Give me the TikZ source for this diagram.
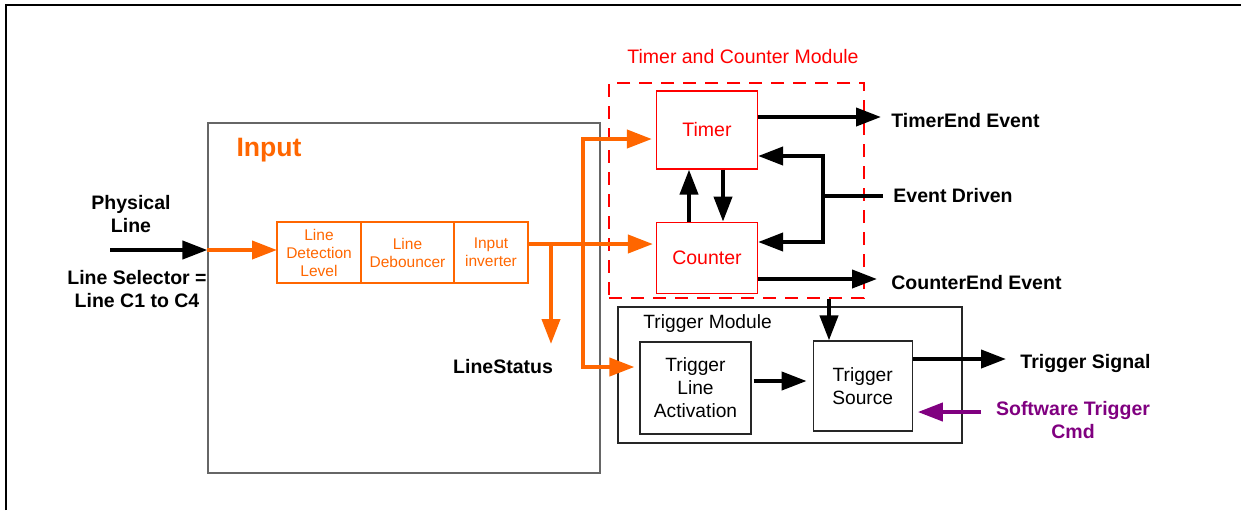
\documentclass[tikz,border=0pt]{standalone}
\usepackage{fontspec}
\setmainfont{Liberation Sans}
\usepackage{xcolor}
\definecolor{TrigOrange}{HTML}{FF6600}
\definecolor{TrigRed}{HTML}{FF0000}
\definecolor{TrigPurple}{HTML}{800080}
\definecolor{TrigGrey}{HTML}{666666}
\usetikzlibrary{arrows.meta,positioning,calc}

\begin{document}
\begin{tikzpicture}[
  x=0.5pt,y=-0.5pt,
  lbl/.style={font=\fontsize{9.75}{11.5}\selectfont\bfseries,align=center,inner sep=2pt},
  blk/.style={line width=2pt,draw=black},
  blkarr/.style={blk,-{Triangle[length=12.5pt,width=9pt]}},
  org/.style={line width=2pt,draw=TrigOrange},
  orgarr/.style={org,-{Triangle[length=12.5pt,width=9pt]}},
  purarr/.style={line width=2pt,draw=TrigPurple,-{Triangle[length=12.5pt,width=9pt]}},
  chain/.style={draw=TrigOrange,line width=0.6pt,text=TrigOrange,minimum height=30.5pt,align=center,inner sep=0pt,outer sep=0pt,font=\fontsize{7.75}{9}\selectfont},
  tcbox/.style={draw=TrigRed,line width=0.6pt,text=TrigRed,minimum width=50.5pt,font=\fontsize{9.75}{11.5}\selectfont},
  trbox/.style={draw=black!85,line width=0.6pt,align=center,font=\fontsize{9.6}{11.5}\selectfont}
]
  \useasboundingbox (0,0) rectangle (1241,510);
  \draw[line width=1pt] (6,510) -- (6,5) -- (1241,5);

  % input block
  \node[draw=TrigGrey,line width=0.6pt,minimum width=196pt,minimum height=175pt] (input) at (404,298) {};
  \node[font=\fontsize{13.3}{15}\selectfont\bfseries,text=TrigOrange] (inputtitle) at (269,150) {Input};
  \node[chain,minimum width=42pt] (det) at (319,252.5) {Line\\Detection\\Level};
  \node[chain,minimum width=46.5pt,right=0pt of det] (deb) {Line\\Debouncer};
  \node[chain,minimum width=37pt,right=0pt of deb] (inv) {Input\\inverter};
  \node[lbl] (phys) at (131,214) {Physical\\Line};
  \node[lbl] (linesel) at (137,289.5) {Line Selector =\\Line C1 to C4};
  \node[lbl] (linestatus) at (503,367) {LineStatus};

  % timer and counter module
  \node[draw=TrigRed,line width=1.3pt,dash pattern=on 6.5pt off 4.5pt,minimum width=127.5pt,minimum height=107.5pt] (tc) at (736.5,190.5) {};
  \node[font=\fontsize{9.75}{11.5}\selectfont,text=TrigRed] (tctitle) at (743,57) {Timer and Counter Module};
  \node[tcbox,minimum height=39pt] (timer) at (707,130) {Timer};
  \node[tcbox,minimum height=35.5pt,below=26pt of timer] (counter) {Counter};
  \node[lbl,anchor=west] (tmend) at (887,121) {TimerEnd Event};
  \node[lbl,anchor=west] (evd) at (889,196) {Event Driven};
  \node[lbl,anchor=west] (cnend) at (887,283) {CounterEnd Event};

  % trigger module
  \node[draw=black!85,line width=0.8pt,minimum width=172pt,minimum height=68pt] (trigmod) at (790,375) {};
  \node[anchor=west,inner sep=1pt,font=\fontsize{9.6}{11.5}\selectfont] (trigtitle) at (641,324) {Trigger Module};
  \node[trbox,minimum width=55.5pt,minimum height=46pt] (tla) at (695.5,388) {Trigger\\Line\\Activation};
  \node[trbox,minimum width=49.5pt,minimum height=45pt,right=30.5pt of tla,yshift=1pt] (ts) {Trigger\\Source};
  \node[lbl,anchor=west] (tsig) at (1016,363) {Trigger Signal};
  \node[lbl,text=TrigPurple] (swt) at (1073,420) {Software Trigger\\Cmd};

  % rows and columns of the connectors
  \coordinate (physin) at (110,250);
  \coordinate (j1) at (551,244);
  \coordinate (j2) at (583,244);
  \coordinate (j3) at (583,139);
  \coordinate (j4) at (583,367);
  \coordinate (lstip) at (551,344);
  \coordinate (evj) at (823,196);
  \coordinate (tmrow) at (0,117);
  \coordinate (evtop) at (0,156);
  \coordinate (evbot) at (0,242);
  \coordinate (cnrow) at (0,279);
  \coordinate (tlrow) at (0,381);
  \coordinate (tsrow) at (0,359);
  \coordinate (swrow) at (0,412);
  \coordinate (upcol) at (689,0);
  \coordinate (dncol) at (723,0);
  \coordinate (tscol) at (829,0);

  \draw[blkarr] (physin) -- (physin -| input.west);
  \draw[orgarr] (physin -| input.west) -- (physin -| det.west);
  \draw[org] (j1 -| inv.east) -- (j1);
  \draw[orgarr,shorten >=1.5pt] (j1) -- (j1 -| counter.west);
  \draw[orgarr] (j1) -- (lstip);
  \draw[orgarr,shorten >=2pt] (j2) |- (timer.west |- j3);
  \draw[orgarr,shorten >=2.5pt] (j2) |- (tla.west |- j4);

  \draw[blkarr] (upcol |- counter.north) -- (upcol |- timer.south);
  \draw[blkarr] (dncol |- timer.south) -- (dncol |- counter.north);
  \draw[blkarr,shorten >=3pt] (timer.east |- tmrow) -- (tmend.west |- tmrow);
  \draw[blk,shorten <=3pt] (evd.west) -- (evj);
  \draw[blkarr] (evj) |- (timer.east |- evtop);
  \draw[blkarr] (evj) |- (counter.east |- evbot);
  \draw[blkarr,shorten >=5pt] (counter.east |- cnrow) -- (cnend.west |- cnrow);
  \draw[blkarr] (tscol |- tc.south) -- (tscol |- ts.north);
  \draw[blkarr,shorten <=1pt,shorten >=3pt] (tla.east |- tlrow) -- (ts.west |- tlrow);
  \draw[blkarr,shorten >=5pt] (ts.east |- tsrow) -- (tsig.west |- tsrow);
  \draw[purarr,shorten <=5.25pt,shorten >=2.5pt] (swt.west |- swrow) -- (ts.east |- swrow);
\end{tikzpicture}
\end{document}
